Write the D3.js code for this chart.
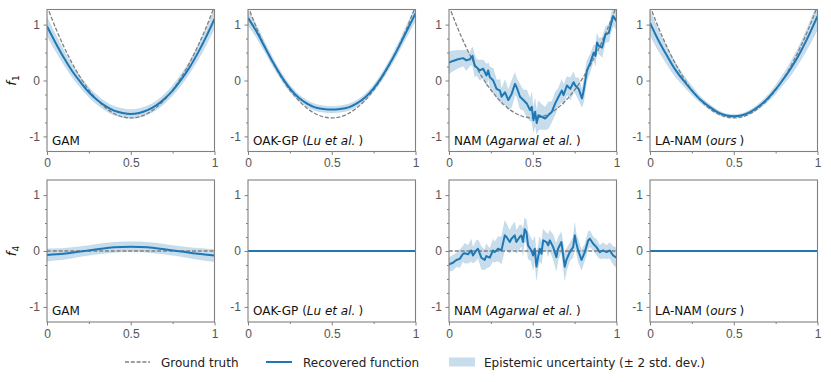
<!DOCTYPE html>
<meta charset="utf-8">
<style>
body { margin: 0; background: #fff; }
svg { font-family: "DejaVu Sans", sans-serif; }
.frame { fill: none; stroke: #808080; stroke-width: 1.1px; }
.axis path { display: none; }
.axis line { stroke: #808080; stroke-width: 1px; }
.axis text { fill: #555; font-size: 12px; }
.band { fill: #1f77b4; fill-opacity: .25; stroke: #1f77b4; stroke-opacity: .12; stroke-width: 0.6px; }
.truth { fill: none; stroke: #808080; stroke-width: 1.3px; stroke-dasharray: 4,1.8; }
.fit { fill: none; stroke: #1f77b4; stroke-width: 2px; stroke-linejoin: round; }
.label { font-size: 12px; fill: #111; }
.legend text { font-size: 12px; fill: #222; }
</style>
<svg width="831" height="382"></svg>
<script src="https://d3js.org/d3.v7.min.js"></script>
<script>

// smooth curves, sampled every 0.05
var xs = [0,0.05,0.1,0.15,0.2,0.25,0.3,0.35,0.4,0.45,0.5,0.55,0.6,0.65,0.7,0.75,0.8,0.85,0.9,0.95,1];

var truthF1 = [1.33,0.95,0.61,0.31,0.05,-0.17,-0.35,-0.49,-0.59,-0.65,-0.67,-0.65,-0.59,-0.49,-0.35,-0.17,0.05,0.31,0.61,0.95,1.33];

var gamF1   = [0.97,0.68,0.41,0.17,-0.03,-0.21,-0.35,-0.46,-0.54,-0.58,-0.6,-0.58,-0.53,-0.45,-0.33,-0.18,0.01,0.23,0.49,0.78,1.1];
var gamF1Sd = [0.085,0.075,0.065,0.055,0.05,0.045,0.042,0.04,0.04,0.04,0.04,0.04,0.04,0.04,0.042,0.045,0.05,0.055,0.065,0.075,0.085];

var oakF1   = [1.12,0.88,0.6,0.32,0.07,-0.14,-0.3,-0.41,-0.48,-0.51,-0.52,-0.51,-0.48,-0.41,-0.3,-0.14,0.07,0.32,0.6,0.9,1.2];
var oakF1Sd = [0.065,0.055,0.045,0.04,0.035,0.032,0.03,0.03,0.03,0.03,0.03,0.03,0.03,0.03,0.03,0.032,0.035,0.04,0.045,0.055,0.065];

var laF1    = [1.03,0.72,0.45,0.2,0.0,-0.18,-0.34,-0.46,-0.56,-0.62,-0.64,-0.62,-0.56,-0.46,-0.33,-0.16,0.04,0.26,0.52,0.82,1.15];
var laF1Sd  = [0.11,0.095,0.08,0.065,0.05,0.04,0.03,0.025,0.02,0.015,0.015,0.015,0.02,0.025,0.03,0.04,0.05,0.065,0.08,0.1,0.12];

var xs4 = [0,0.1,0.2,0.3,0.4,0.5,0.6,0.7,0.8,0.9,1];
var truthF4 = [0,0,0,0,0,0,0,0,0,0,0];
var gamF4   = [-0.07,-0.05,-0.01,0.03,0.065,0.075,0.065,0.03,-0.01,-0.05,-0.08];
var gamF4Sd = [0.055,0.05,0.045,0.045,0.045,0.045,0.045,0.045,0.045,0.05,0.055];
var flatF4Sd = [0,0,0,0,0,0,0,0,0,0,0];

// NAM: noisy, read point by point
var namX1 = [0,0.024,0.054,0.084,0.104,0.124,0.14,0.154,0.164,0.184,0.204,0.224,0.234,0.244,0.264,0.284,0.304,0.314,0.334,0.354,
  0.374,0.394,0.404,0.424,0.444,0.464,0.484,0.494,0.504,0.514,0.524,0.534,0.554,0.574,0.594,0.614,0.634,0.654,0.674,0.684,
  0.704,0.724,0.744,0.754,0.774,0.794,0.804,0.824,0.844,0.864,0.874,0.884,0.894,0.914,0.934,0.954,0.964,0.98,0.988,1];
var namF1 = [0.32,0.35,0.38,0.4,0.36,0.38,0.44,0.26,0.24,0.18,0.21,0.09,0.18,0.06,0.0,-0.15,-0.18,-0.29,-0.21,-0.35,
  -0.24,-0.06,-0.12,-0.29,-0.35,-0.41,-0.53,-0.47,-0.71,-0.56,-0.76,-0.62,-0.65,-0.68,-0.62,-0.56,-0.41,-0.29,-0.18,-0.26,
  -0.09,-0.15,-0.03,-0.09,-0.15,-0.32,-0.18,0.18,0.32,0.5,0.44,0.68,0.62,0.59,0.82,0.85,0.97,1.15,1.12,1.06];
var namF1Sd = [0.1,0.09,0.08,0.07,0.09,0.06,0.08,0.1,0.07,0.09,0.08,0.1,0.07,0.09,0.11,0.08,0.1,0.07,0.11,0.09,
  0.12,0.1,0.08,0.11,0.09,0.12,0.1,0.13,0.11,0.12,0.1,0.13,0.11,0.1,0.12,0.09,0.1,0.08,0.1,0.09,
  0.08,0.1,0.09,0.07,0.1,0.08,0.1,0.09,0.08,0.07,0.09,0.08,0.07,0.09,0.07,0.08,0.07,0.09,0.08,0.08];

var namX4 = [0,0.024,0.044,0.064,0.084,0.094,0.114,0.133,0.143,0.163,0.173,0.193,0.213,0.223,0.243,0.263,0.273,0.293,0.313,0.333,
  0.343,0.363,0.373,0.392,0.402,0.422,0.432,0.442,0.452,0.462,0.472,0.492,0.502,0.512,0.522,0.532,0.542,0.552,0.562,0.582,
  0.592,0.602,0.622,0.641,0.651,0.671,0.691,0.701,0.721,0.741,0.751,0.761,0.771,0.791,0.811,0.831,0.841,0.861,0.88,0.9,
  0.92,0.94,0.96,0.98,1];
var namF4 = [-0.24,-0.21,-0.16,-0.14,-0.05,-0.04,-0.06,0.01,-0.08,0.01,0.04,-0.12,-0.16,-0.09,-0.12,0.01,-0.02,0.04,0.01,0.28,
  0.25,0.16,0.22,0.28,0.16,0.25,0.28,0.16,0.39,0.34,0.1,0.01,-0.08,0.04,-0.28,-0.11,0.04,-0.05,0.19,0.16,
  0.1,0.19,0.07,-0.11,0.04,0.16,-0.28,-0.16,-0.02,0.07,0.28,0.13,0.01,-0.16,-0.02,0.19,0.22,0.13,0.07,-0.02,
  0.01,-0.02,0.01,-0.08,-0.12];
var namF4Sd = [0.06,0.07,0.06,0.08,0.07,0.09,0.08,0.1,0.07,0.09,0.08,0.1,0.09,0.11,0.08,0.1,0.09,0.11,0.12,0.13,
  0.12,0.1,0.11,0.12,0.1,0.11,0.09,0.12,0.1,0.11,0.12,0.1,0.13,0.11,0.12,0.1,0.11,0.09,0.1,0.08,
  0.1,0.09,0.11,0.12,0.1,0.09,0.12,0.1,0.08,0.09,0.11,0.08,0.1,0.09,0.07,0.08,0.07,0.06,0.07,0.06,
  0.07,0.06,0.07,0.08,0.09];

var modelNames = [["GAM"], ["OAK-GP (", "Lu et al.", ")"], ["NAM (", "Agarwal et al.", ")"], ["LA-NAM (", "ours", ")"]];
var features = ["1", "4"];
var yTicks = [-1, 0, 1];
var xTicks = [0, 0.5, 1];

var panels = [
  [ {x: xs, y: gamF1, sd: gamF1Sd, tx: xs, ty: truthF1},
    {x: xs, y: oakF1, sd: oakF1Sd, tx: xs, ty: truthF1},
    {x: namX1, y: namF1, sd: namF1Sd, tx: xs, ty: truthF1},
    {x: xs, y: laF1, sd: laF1Sd, tx: xs, ty: truthF1} ],
  [ {x: xs4, y: gamF4, sd: gamF4Sd, tx: xs4, ty: truthF4},
    {x: xs4, y: truthF4, sd: flatF4Sd, tx: xs4, ty: truthF4},
    {x: namX4, y: namF4, sd: namF4Sd, tx: xs4, ty: truthF4},
    {x: xs4, y: truthF4, sd: flatF4Sd, tx: xs4, ty: truthF4} ]
];

var svg = d3.select("svg"),
    colX = [47, 248, 449, 650],
    rowY = [9.5, 180],
    w = 167.5, h = 142;

var x = d3.scaleLinear().domain([0, 1]).range([0, w]);
var y = d3.scaleLinear().domain([-1.27, 1.27]).range([h, 0]);

svg.append("defs").append("clipPath").attr("id", "clip")
  .append("rect").attr("width", w).attr("height", h);

panels.forEach(function(row, r) {
  row.forEach(function(p, c) {
    var smooth = c === 2 ? d3.curveLinear : d3.curveCatmullRom;
    var g = svg.append("g").attr("transform", "translate(" + colX[c] + "," + rowY[r] + ")");
    var pts = p.x.map(function(v, i) { return {x: v, y: p.y[i], sd: p.sd[i]}; });
    var tpts = p.tx.map(function(v, i) { return {x: v, y: p.ty[i]}; });

    var plot = g.append("g").attr("clip-path", "url(#clip)");
    plot.append("path").attr("class", "band")
      .attr("d", d3.area().curve(smooth)
        .x(function(d) { return x(d.x); })
        .y0(function(d) { return y(d.y - 2 * d.sd); })
        .y1(function(d) { return y(d.y + 2 * d.sd); })(pts));
    plot.append("path").attr("class", "truth")
      .attr("d", d3.line().curve(d3.curveCatmullRom)
        .x(function(d) { return x(d.x); }).y(function(d) { return y(d.y); })(tpts));
    plot.append("path").attr("class", "fit")
      .attr("d", d3.line().curve(smooth)
        .x(function(d) { return x(d.x); }).y(function(d) { return y(d.y); })(pts));

    g.append("rect").attr("class", "frame").attr("width", w).attr("height", h);

    g.append("g").attr("class", "axis")
      .call(d3.axisLeft(y).tickValues(yTicks).tickFormat(String).tickSize(3.5).tickPadding(3.5));
    g.append("g").attr("class", "axis")
      .call(d3.axisLeft(y).tickValues([-0.75, -0.5, -0.25, 0.25, 0.5, 0.75]).tickFormat("").tickSize(2));
    g.append("g").attr("class", "axis").attr("transform", "translate(0," + h + ")")
      .call(d3.axisBottom(x).tickValues(xTicks).tickFormat(String).tickSize(3.5).tickPadding(3.5));
    g.append("g").attr("class", "axis").attr("transform", "translate(0," + h + ")")
      .call(d3.axisBottom(x).tickValues([0.25, 0.75]).tickFormat("").tickSize(2));

    var name = modelNames[c];
    var t = g.append("text").attr("class", "label").attr("x", 5).attr("y", h - 7);
    t.append("tspan").text(name[0]);
    if (name.length > 2) {
      t.append("tspan").style("font-style", "italic").text(name[1]);
      t.append("tspan").attr("dx", 3).text(name[2]);
    }

    if (c === 0) {
      var yl = g.append("text").attr("class", "label")
        .attr("transform", "translate(-31," + y(0) + ") rotate(-90)")
        .attr("text-anchor", "middle");
      yl.append("tspan").style("font-style", "italic").style("font-size", "13px").text("f");
      yl.append("tspan").attr("dy", 3).style("font-size", "9px").text(features[r]);
    }
  });
});

// legend
var lg = svg.append("g").attr("class", "legend").attr("transform", "translate(0,362)");
lg.append("line").attr("class", "truth").attr("x1", 125).attr("x2", 150).attr("y1", 0).attr("y2", 0);
lg.append("text").attr("x", 161).attr("y", 4.5).text("Ground truth");
lg.append("line").attr("class", "fit").attr("x1", 266).attr("x2", 292).attr("y1", 0).attr("y2", 0);
lg.append("text").attr("x", 303).attr("y", 4.5).text("Recovered function");
lg.append("rect").attr("x", 449).attr("y", -4.5).attr("width", 26).attr("height", 9)
  .style("fill", "#1f77b4").style("fill-opacity", .25);
lg.append("text").attr("x", 484).attr("y", 4.5).text("Epistemic uncertainty (\u00b1 2 std. dev.)");

</script>
